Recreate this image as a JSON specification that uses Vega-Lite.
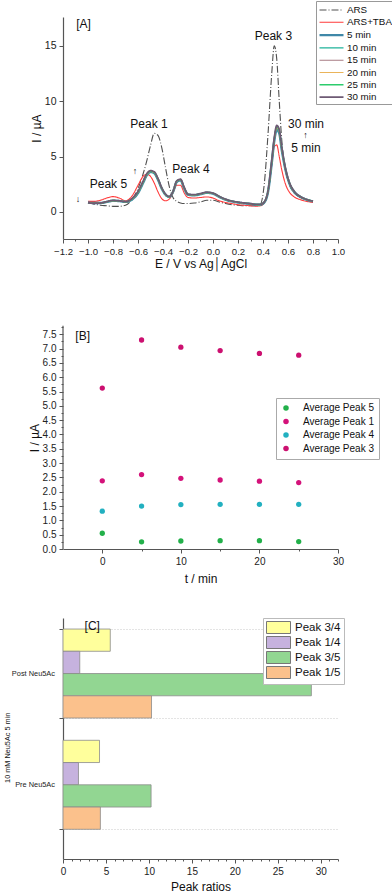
{
  "$schema": "https://vega.github.io/schema/vega-lite/v6.json",
  "padding": {"left": 3, "top": 0, "right": 0, "bottom": 0},
  "config": {
    "font": "Liberation Sans",
    "view": {"stroke": null},
    "axis": {"grid": false, "domainColor": "#555", "tickColor": "#555", "labelColor": "#222", "titleColor": "#111", "titleFontWeight": "normal", "labelFont": "Liberation Sans", "titleFont": "Liberation Sans", "tickSize": 4, "domainWidth": 1.2, "tickWidth": 1, "labelFlush": false, "labelOverlap": false},
    "legend": {"labelFont": "Liberation Sans", "labelColor": "#111"}
  },
  "spacing": 69,
  "bounds": "flush",
  "resolve": {"scale": {"color": "independent", "strokeDash": "independent", "strokeWidth": "independent"}},
  "vconcat": [
    {
      "width": 275,
      "height": 222,
      "resolve": {"axis": {"x": "independent"}},
      "layer": [
        {
          "data": {"values": [
            {"E": -1.00, "ARS": 0.80, "ARS+TBA": 0.95, "5 min": 0.85, "10 min": 0.84, "15 min": 0.83, "20 min": 0.83, "25 min": 0.82, "30 min": 0.82},
            {"E": -0.95, "ARS": 0.70, "ARS+TBA": 0.95, "5 min": 0.80, "10 min": 0.80, "15 min": 0.79, "20 min": 0.79, "25 min": 0.78, "30 min": 0.78},
            {"E": -0.90, "ARS": 0.60, "ARS+TBA": 1.05, "5 min": 0.80, "10 min": 0.80, "15 min": 0.80, "20 min": 0.80, "25 min": 0.80, "30 min": 0.80},
            {"E": -0.85, "ARS": 0.55, "ARS+TBA": 1.25, "5 min": 0.90, "10 min": 0.90, "15 min": 0.92, "20 min": 0.92, "25 min": 0.93, "30 min": 0.93},
            {"E": -0.80, "ARS": 0.50, "ARS+TBA": 1.38, "5 min": 1.00, "10 min": 1.00, "15 min": 1.02, "20 min": 1.02, "25 min": 1.03, "30 min": 1.03},
            {"E": -0.75, "ARS": 0.50, "ARS+TBA": 1.25, "5 min": 0.98, "10 min": 0.98, "15 min": 1.00, "20 min": 1.00, "25 min": 1.00, "30 min": 1.00},
            {"E": -0.70, "ARS": 0.60, "ARS+TBA": 1.00, "5 min": 0.90, "10 min": 0.90, "15 min": 0.92, "20 min": 0.92, "25 min": 0.92, "30 min": 0.92},
            {"E": -0.65, "ARS": 1.10, "ARS+TBA": 1.40, "5 min": 1.10, "10 min": 1.12, "15 min": 1.14, "20 min": 1.15, "25 min": 1.16, "30 min": 1.18},
            {"E": -0.60, "ARS": 2.10, "ARS+TBA": 2.40, "5 min": 1.70, "10 min": 1.72, "15 min": 1.75, "20 min": 1.78, "25 min": 1.80, "30 min": 1.85},
            {"E": -0.56, "ARS": 3.40, "ARS+TBA": 3.20, "5 min": 2.60, "10 min": 2.62, "15 min": 2.65, "20 min": 2.68, "25 min": 2.70, "30 min": 2.75},
            {"E": -0.53, "ARS": 4.60, "ARS+TBA": 3.40, "5 min": 3.30, "10 min": 3.32, "15 min": 3.35, "20 min": 3.38, "25 min": 3.40, "30 min": 3.45},
            {"E": -0.50, "ARS": 6.00, "ARS+TBA": 3.20, "5 min": 3.60, "10 min": 3.62, "15 min": 3.64, "20 min": 3.66, "25 min": 3.68, "30 min": 3.72},
            {"E": -0.47, "ARS": 7.10, "ARS+TBA": 2.60, "5 min": 3.50, "10 min": 3.52, "15 min": 3.54, "20 min": 3.56, "25 min": 3.58, "30 min": 3.62},
            {"E": -0.44, "ARS": 6.90, "ARS+TBA": 1.80, "5 min": 2.90, "10 min": 2.92, "15 min": 2.94, "20 min": 2.96, "25 min": 2.98, "30 min": 3.00},
            {"E": -0.41, "ARS": 5.80, "ARS+TBA": 1.20, "5 min": 2.10, "10 min": 2.12, "15 min": 2.14, "20 min": 2.15, "25 min": 2.16, "30 min": 2.18},
            {"E": -0.38, "ARS": 4.00, "ARS+TBA": 1.00, "5 min": 1.55, "10 min": 1.56, "15 min": 1.57, "20 min": 1.58, "25 min": 1.58, "30 min": 1.60},
            {"E": -0.35, "ARS": 2.30, "ARS+TBA": 1.15, "5 min": 1.35, "10 min": 1.35, "15 min": 1.36, "20 min": 1.36, "25 min": 1.37, "30 min": 1.38},
            {"E": -0.32, "ARS": 1.30, "ARS+TBA": 1.70, "5 min": 1.80, "10 min": 1.80, "15 min": 1.82, "20 min": 1.82, "25 min": 1.84, "30 min": 1.85},
            {"E": -0.29, "ARS": 0.95, "ARS+TBA": 2.40, "5 min": 2.70, "10 min": 2.72, "15 min": 2.74, "20 min": 2.76, "25 min": 2.78, "30 min": 2.80},
            {"E": -0.26, "ARS": 0.80, "ARS+TBA": 2.40, "5 min": 2.85, "10 min": 2.87, "15 min": 2.89, "20 min": 2.91, "25 min": 2.93, "30 min": 2.95},
            {"E": -0.23, "ARS": 0.75, "ARS+TBA": 1.70, "5 min": 2.10, "10 min": 2.12, "15 min": 2.14, "20 min": 2.16, "25 min": 2.18, "30 min": 2.20},
            {"E": -0.20, "ARS": 0.75, "ARS+TBA": 1.30, "5 min": 1.55, "10 min": 1.56, "15 min": 1.57, "20 min": 1.58, "25 min": 1.59, "30 min": 1.60},
            {"E": -0.15, "ARS": 0.80, "ARS+TBA": 1.25, "5 min": 1.50, "10 min": 1.51, "15 min": 1.52, "20 min": 1.53, "25 min": 1.54, "30 min": 1.55},
            {"E": -0.10, "ARS": 0.90, "ARS+TBA": 1.30, "5 min": 1.60, "10 min": 1.61, "15 min": 1.62, "20 min": 1.63, "25 min": 1.64, "30 min": 1.65},
            {"E": -0.05, "ARS": 1.05, "ARS+TBA": 1.35, "5 min": 1.72, "10 min": 1.73, "15 min": 1.74, "20 min": 1.75, "25 min": 1.76, "30 min": 1.78},
            {"E": 0.00, "ARS": 1.05, "ARS+TBA": 1.25, "5 min": 1.65, "10 min": 1.66, "15 min": 1.67, "20 min": 1.68, "25 min": 1.69, "30 min": 1.70},
            {"E": 0.05, "ARS": 0.90, "ARS+TBA": 1.00, "5 min": 1.35, "10 min": 1.36, "15 min": 1.37, "20 min": 1.38, "25 min": 1.39, "30 min": 1.40},
            {"E": 0.10, "ARS": 0.75, "ARS+TBA": 0.85, "5 min": 1.10, "10 min": 1.11, "15 min": 1.12, "20 min": 1.13, "25 min": 1.14, "30 min": 1.15},
            {"E": 0.15, "ARS": 0.65, "ARS+TBA": 0.75, "5 min": 0.95, "10 min": 0.96, "15 min": 0.97, "20 min": 0.97, "25 min": 0.98, "30 min": 0.98},
            {"E": 0.20, "ARS": 0.60, "ARS+TBA": 0.65, "5 min": 0.85, "10 min": 0.86, "15 min": 0.86, "20 min": 0.87, "25 min": 0.87, "30 min": 0.88},
            {"E": 0.25, "ARS": 0.55, "ARS+TBA": 0.60, "5 min": 0.78, "10 min": 0.78, "15 min": 0.79, "20 min": 0.79, "25 min": 0.80, "30 min": 0.80},
            {"E": 0.30, "ARS": 0.55, "ARS+TBA": 0.55, "5 min": 0.72, "10 min": 0.72, "15 min": 0.73, "20 min": 0.73, "25 min": 0.74, "30 min": 0.74},
            {"E": 0.35, "ARS": 0.55, "ARS+TBA": 0.52, "5 min": 0.65, "10 min": 0.65, "15 min": 0.66, "20 min": 0.66, "25 min": 0.67, "30 min": 0.67},
            {"E": 0.38, "ARS": 0.70, "ARS+TBA": 0.55, "5 min": 0.65, "10 min": 0.65, "15 min": 0.66, "20 min": 0.66, "25 min": 0.67, "30 min": 0.67},
            {"E": 0.41, "ARS": 2.50, "ARS+TBA": 0.80, "5 min": 0.85, "10 min": 0.86, "15 min": 0.87, "20 min": 0.88, "25 min": 0.89, "30 min": 0.90},
            {"E": 0.44, "ARS": 7.00, "ARS+TBA": 1.80, "5 min": 1.80, "10 min": 1.82, "15 min": 1.84, "20 min": 1.86, "25 min": 1.88, "30 min": 1.90},
            {"E": 0.47, "ARS": 12.50, "ARS+TBA": 4.20, "5 min": 4.40, "10 min": 4.45, "15 min": 4.50, "20 min": 4.55, "25 min": 4.60, "30 min": 4.65},
            {"E": 0.49, "ARS": 15.00, "ARS+TBA": 5.90, "5 min": 6.40, "10 min": 6.45, "15 min": 6.50, "20 min": 6.55, "25 min": 6.60, "30 min": 6.65},
            {"E": 0.51, "ARS": 13.80, "ARS+TBA": 6.05, "5 min": 7.40, "10 min": 7.50, "15 min": 7.55, "20 min": 7.62, "25 min": 7.70, "30 min": 7.80},
            {"E": 0.53, "ARS": 10.00, "ARS+TBA": 5.00, "5 min": 7.10, "10 min": 7.20, "15 min": 7.25, "20 min": 7.30, "25 min": 7.35, "30 min": 7.45},
            {"E": 0.55, "ARS": 6.50, "ARS+TBA": 3.80, "5 min": 5.60, "10 min": 5.65, "15 min": 5.70, "20 min": 5.75, "25 min": 5.80, "30 min": 5.85},
            {"E": 0.58, "ARS": 3.80, "ARS+TBA": 2.50, "5 min": 3.80, "10 min": 3.82, "15 min": 3.85, "20 min": 3.88, "25 min": 3.90, "30 min": 3.92},
            {"E": 0.61, "ARS": 2.50, "ARS+TBA": 1.80, "5 min": 2.60, "10 min": 2.62, "15 min": 2.64, "20 min": 2.66, "25 min": 2.68, "30 min": 2.70},
            {"E": 0.65, "ARS": 1.70, "ARS+TBA": 1.35, "5 min": 1.80, "10 min": 1.81, "15 min": 1.82, "20 min": 1.83, "25 min": 1.84, "30 min": 1.85},
            {"E": 0.70, "ARS": 1.30, "ARS+TBA": 1.10, "5 min": 1.35, "10 min": 1.35, "15 min": 1.36, "20 min": 1.36, "25 min": 1.37, "30 min": 1.37},
            {"E": 0.75, "ARS": 1.05, "ARS+TBA": 0.95, "5 min": 1.10, "10 min": 1.10, "15 min": 1.11, "20 min": 1.11, "25 min": 1.12, "30 min": 1.12},
            {"E": 0.80, "ARS": 0.90, "ARS+TBA": 0.85, "5 min": 0.95, "10 min": 0.95, "15 min": 0.96, "20 min": 0.96, "25 min": 0.97, "30 min": 0.97}
          ]},
          "transform": [{"fold": ["ARS", "ARS+TBA", "5 min", "10 min", "15 min", "20 min", "25 min", "30 min"], "as": ["series", "I"]}],
          "mark": {"type": "line", "interpolate": "monotone", "clip": true},
          "encoding": {
            "x": {"field": "E", "type": "quantitative", "scale": {"domain": [-1.2, 1.0], "nice": false, "zero": false},
              "axis": {"orient": "bottom", "values": [-1.2, -1.0, -0.8, -0.6, -0.4, -0.2, 0.0, 0.2, 0.4, 0.6, 0.8, 1.0], "format": ".1f", "labelFontSize": 9.6, "labelPadding": 3, "title": "E / V vs Ag\u2502AgCl", "titleFontSize": 12, "titlePadding": 3}},
            "y": {"field": "I", "type": "quantitative", "scale": {"domain": [-2.45, 17.6], "nice": false, "zero": false},
              "axis": {"values": [0, 5, 10, 15], "labelFontSize": 10.5, "labelPadding": 3, "title": "I / \u00b5A", "titleFontSize": 12, "titleX": -32, "titleY": 111, "titleBaseline": "top", "titleAlign": "center"}},
            "color": {"field": "series", "type": "nominal",
              "scale": {"domain": ["ARS", "ARS+TBA", "5 min", "10 min", "15 min", "20 min", "25 min", "30 min"], "range": ["#505050", "#ff3b3b", "#3f88a8", "#1fb39a", "#a87c84", "#eab45a", "#2ccc6c", "#6e5a74"]},
              "legend": {"orient": "none", "legendX": 253, "legendY": -16, "title": null, "symbolType": "M-1,0H3", "symbolSize": 144, "labelOffset": 14, "labelFontSize": 9.8, "rowPadding": 0.3, "padding": 2, "strokeColor": "#999", "fillColor": "white"}},
            "strokeDash": {"field": "series", "type": "nominal",
              "scale": {"domain": ["ARS", "ARS+TBA", "5 min", "10 min", "15 min", "20 min", "25 min", "30 min"], "range": [[7, 2, 1, 2], [1, 0], [1, 0], [1, 0], [1, 0], [1, 0], [1, 0], [1, 0]]}},
            "strokeWidth": {"field": "series", "type": "nominal",
              "scale": {"type": "ordinal", "domain": ["ARS", "ARS+TBA", "5 min", "10 min", "15 min", "20 min", "25 min", "30 min"], "range": [1.1, 1.1, 2.4, 1.4, 1.1, 1.2, 1.4, 1.8]}}
          }
        },
        {
          "data": {"values": [
            {"E": -1.036, "I": 17.0, "label": "[A]"},
            {"E": -0.512, "I": 7.9, "label": "Peak 1"},
            {"E": -0.837, "I": 2.5, "label": "Peak 5"},
            {"E": -0.176, "I": 3.9, "label": "Peak 4"},
            {"E": 0.483, "I": 15.9, "label": "Peak 3"},
            {"E": 0.744, "I": 7.9, "label": "30 min"},
            {"E": 0.744, "I": 5.75, "label": "5 min"}
          ]},
          "mark": {"type": "text", "fontSize": 12, "color": "#111"},
          "encoding": {
            "x": {"field": "E", "type": "quantitative", "axis": {"orient": "bottom", "values": [-1.1, -0.9, -0.7, -0.5, -0.3, -0.1, 0.1, 0.3, 0.5, 0.7, 0.9], "labels": false, "domain": false, "tickSize": 2, "title": null}},
            "y": {"field": "I", "type": "quantitative"},
            "text": {"field": "label"}
          }
        },
        {
          "data": {"values": [
            {"E": -1.08, "I": 1.2, "label": "\u2193"},
            {"E": -0.624, "I": 3.7, "label": "\u2191"},
            {"E": 0.74, "I": 6.9, "label": "\u2191"}
          ]},
          "mark": {"type": "text", "fontSize": 9, "color": "#111"},
          "encoding": {
            "x": {"field": "E", "type": "quantitative", "axis": null},
            "y": {"field": "I", "type": "quantitative"},
            "text": {"field": "label"}
          }
        }
      ]
    },
    {
      "width": 275,
      "height": 241,
      "resolve": {"axis": {"x": "independent", "y": "independent"}},
      "layer": [
        {
          "data": {"values": [
            {"t": 0, "series": "Average Peak 5", "I": 0.55},
            {"t": 5, "series": "Average Peak 5", "I": 0.25},
            {"t": 10, "series": "Average Peak 5", "I": 0.28},
            {"t": 15, "series": "Average Peak 5", "I": 0.29},
            {"t": 20, "series": "Average Peak 5", "I": 0.29},
            {"t": 25, "series": "Average Peak 5", "I": 0.26},
            {"t": 0, "series": "Average Peak 1", "I": 2.38},
            {"t": 5, "series": "Average Peak 1", "I": 2.60},
            {"t": 10, "series": "Average Peak 1", "I": 2.47},
            {"t": 15, "series": "Average Peak 1", "I": 2.41},
            {"t": 20, "series": "Average Peak 1", "I": 2.37},
            {"t": 25, "series": "Average Peak 1", "I": 2.32},
            {"t": 0, "series": "Average Peak 4", "I": 1.32},
            {"t": 5, "series": "Average Peak 4", "I": 1.50},
            {"t": 10, "series": "Average Peak 4", "I": 1.55},
            {"t": 15, "series": "Average Peak 4", "I": 1.56},
            {"t": 20, "series": "Average Peak 4", "I": 1.56},
            {"t": 25, "series": "Average Peak 4", "I": 1.56},
            {"t": 0, "series": "Average Peak 3", "I": 5.62},
            {"t": 5, "series": "Average Peak 3", "I": 7.30},
            {"t": 10, "series": "Average Peak 3", "I": 7.05},
            {"t": 15, "series": "Average Peak 3", "I": 6.93},
            {"t": 20, "series": "Average Peak 3", "I": 6.83},
            {"t": 25, "series": "Average Peak 3", "I": 6.77}
          ]},
          "mark": {"type": "circle", "size": 28, "opacity": 1},
          "encoding": {
            "x": {"field": "t", "type": "quantitative", "scale": {"domain": [-5, 30], "nice": false, "zero": false},
              "axis": {"orient": "bottom", "values": [0, 10, 20, 30], "labelFontSize": 10, "labelPadding": 3, "title": "t / min", "titleFontSize": 12, "titlePadding": 7}},
            "y": {"field": "I", "type": "quantitative", "scale": {"domain": [0, 8.418], "nice": false, "zero": false},
              "axis": {"orient": "left", "domain": false, "values": [0, 0.5, 1, 1.5, 2, 2.5, 3, 3.5, 4, 4.5, 5, 5.5, 6, 6.5, 7, 7.5], "format": ".1f", "labelFontSize": 10, "labelPadding": 3, "title": "I / \u00b5A", "titleFontSize": 12, "titleX": -34, "titleY": 129.5, "titleBaseline": "top", "titleAlign": "center"}},
            "color": {"field": "series", "type": "nominal",
              "scale": {"domain": ["Average Peak 5", "Average Peak 1", "Average Peak 4", "Average Peak 3"], "range": ["#22b04a", "#d4127a", "#22b0c0", "#cc1070"]},
              "legend": {"orient": "none", "legendX": 213, "legendY": 90, "title": null, "symbolType": "circle", "symbolSize": 30, "labelFontSize": 10, "labelOffset": 12, "rowPadding": 3.5, "padding": 5, "strokeColor": "#aaa", "fillColor": "white"}}
          }
        },
        {
          "data": {"values": [{"t": -2.5, "I": 7.44, "label": "[B]"}]},
          "mark": {"type": "text", "fontSize": 12, "color": "#111"},
          "encoding": {
            "x": {"field": "t", "type": "quantitative", "axis": {"orient": "bottom", "values": [5, 15, 25], "labels": false, "domain": false, "tickSize": 2, "title": null}},
            "y": {"field": "I", "type": "quantitative", "axis": {"orient": "left", "values": [0.25, 0.75, 1.25, 1.75, 2.25, 2.75, 3.25, 3.75, 4.25, 4.75, 5.25, 5.75, 6.25, 6.75, 7.25, 7.75], "labels": false, "domain": false, "tickSize": 2, "title": null}},
            "text": {"field": "label"}
          }
        },
        {
          "data": {"values": [{"t": -5, "lo": 0, "hi": 7.8}]},
          "mark": {"type": "rule", "color": "#555", "strokeWidth": 1.2},
          "encoding": {
            "x": {"field": "t", "type": "quantitative", "axis": null},
            "y": {"field": "lo", "type": "quantitative", "axis": null},
            "y2": {"field": "hi"}
          }
        }
      ]
    },
    {
      "width": 275,
      "height": 241,
      "data": {"values": [
        {"cond": "Post Neu5Ac", "ratio": "Peak 3/4", "value": 5.5},
        {"cond": "Post Neu5Ac", "ratio": "Peak 1/4", "value": 1.95},
        {"cond": "Post Neu5Ac", "ratio": "Peak 3/5", "value": 28.9},
        {"cond": "Post Neu5Ac", "ratio": "Peak 1/5", "value": 10.3},
        {"cond": "Pre Neu5Ac", "ratio": "Peak 3/4", "value": 4.25},
        {"cond": "Pre Neu5Ac", "ratio": "Peak 1/4", "value": 1.8},
        {"cond": "Pre Neu5Ac", "ratio": "Peak 3/5", "value": 10.25},
        {"cond": "Pre Neu5Ac", "ratio": "Peak 1/5", "value": 4.35}
      ]},
      "resolve": {"axis": {"x": "independent", "y": "independent"}},
      "layer": [
        {
          "mark": {"type": "bar", "stroke": "#8a8a8a", "strokeWidth": 0.8},
          "encoding": {
            "y": {"field": "cond", "type": "nominal", "scale": {"domain": ["Post Neu5Ac", "Pre Neu5Ac"], "paddingInner": 0.2, "paddingOuter": 0.1831, "align": 0.271},
              "axis": {"orient": "left", "title": "10 mM Neu5Ac 5 min", "titleFontSize": 7.3, "titleX": -59.5, "titleY": 129.3, "titleBaseline": "top", "titleAlign": "center", "labelFontSize": 7.4, "labelPadding": 4.5, "tickBand": "extent", "grid": true, "gridDash": [1, 2], "gridColor": "#c8c8c8"}},
            "yOffset": {"field": "ratio", "type": "nominal", "scale": {"domain": ["Peak 3/4", "Peak 1/4", "Peak 3/5", "Peak 1/5"], "paddingInner": 0, "paddingOuter": 0}},
            "x": {"field": "value", "type": "quantitative", "scale": {"domain": [0, 32], "nice": false, "zero": true},
              "axis": {"orient": "bottom", "values": [0, 5, 10, 15, 20, 25, 30], "labelFontSize": 10, "labelPadding": 3, "title": "Peak ratios", "titleFontSize": 12, "titlePadding": 5}},
            "color": {"field": "ratio", "type": "nominal",
              "scale": {"domain": ["Peak 3/4", "Peak 1/4", "Peak 3/5", "Peak 1/5"], "range": ["#ffff9c", "#c6b2de", "#92d692", "#fbc18c"]},
              "legend": {"orient": "none", "legendX": 200, "legendY": 0, "title": null, "symbolType": "M-1,-1H3V1H-1Z", "symbolSize": 144, "labelOffset": 16, "labelFontSize": 11.5, "rowPadding": -3, "padding": 3, "strokeColor": "#bbb", "fillColor": "white", "symbolStrokeColor": "#777", "symbolStrokeWidth": 1, "symbolOpacity": 1}}
          }
        },
        {
          "mark": {"type": "bar", "opacity": 0},
          "encoding": {
            "y": {"field": "cond", "type": "nominal", "axis": null},
            "yOffset": {"field": "ratio", "type": "nominal"},
            "x": {"field": "value", "type": "quantitative", "axis": {"orient": "bottom", "values": [1, 2, 3, 4, 6, 7, 8, 9, 11, 12, 13, 14, 16, 17, 18, 19, 21, 22, 23, 24, 26, 27, 28, 29, 31, 32], "labels": false, "domain": false, "tickSize": 2, "title": null}}
          }
        },
        {
          "data": {"values": [{"cond": "Post Neu5Ac", "ratio": "Peak 3/4", "value": 3.4, "label": "[C]"}]},
          "mark": {"type": "text", "fontSize": 12, "color": "#111", "baseline": "bottom", "dy": -7},
          "encoding": {
            "y": {"field": "cond", "type": "nominal", "axis": null},
            "yOffset": {"field": "ratio", "type": "nominal", "bandPosition": 0},
            "x": {"field": "value", "type": "quantitative", "axis": null},
            "text": {"field": "label"}
          }
        }
      ]
    }
  ]
}
